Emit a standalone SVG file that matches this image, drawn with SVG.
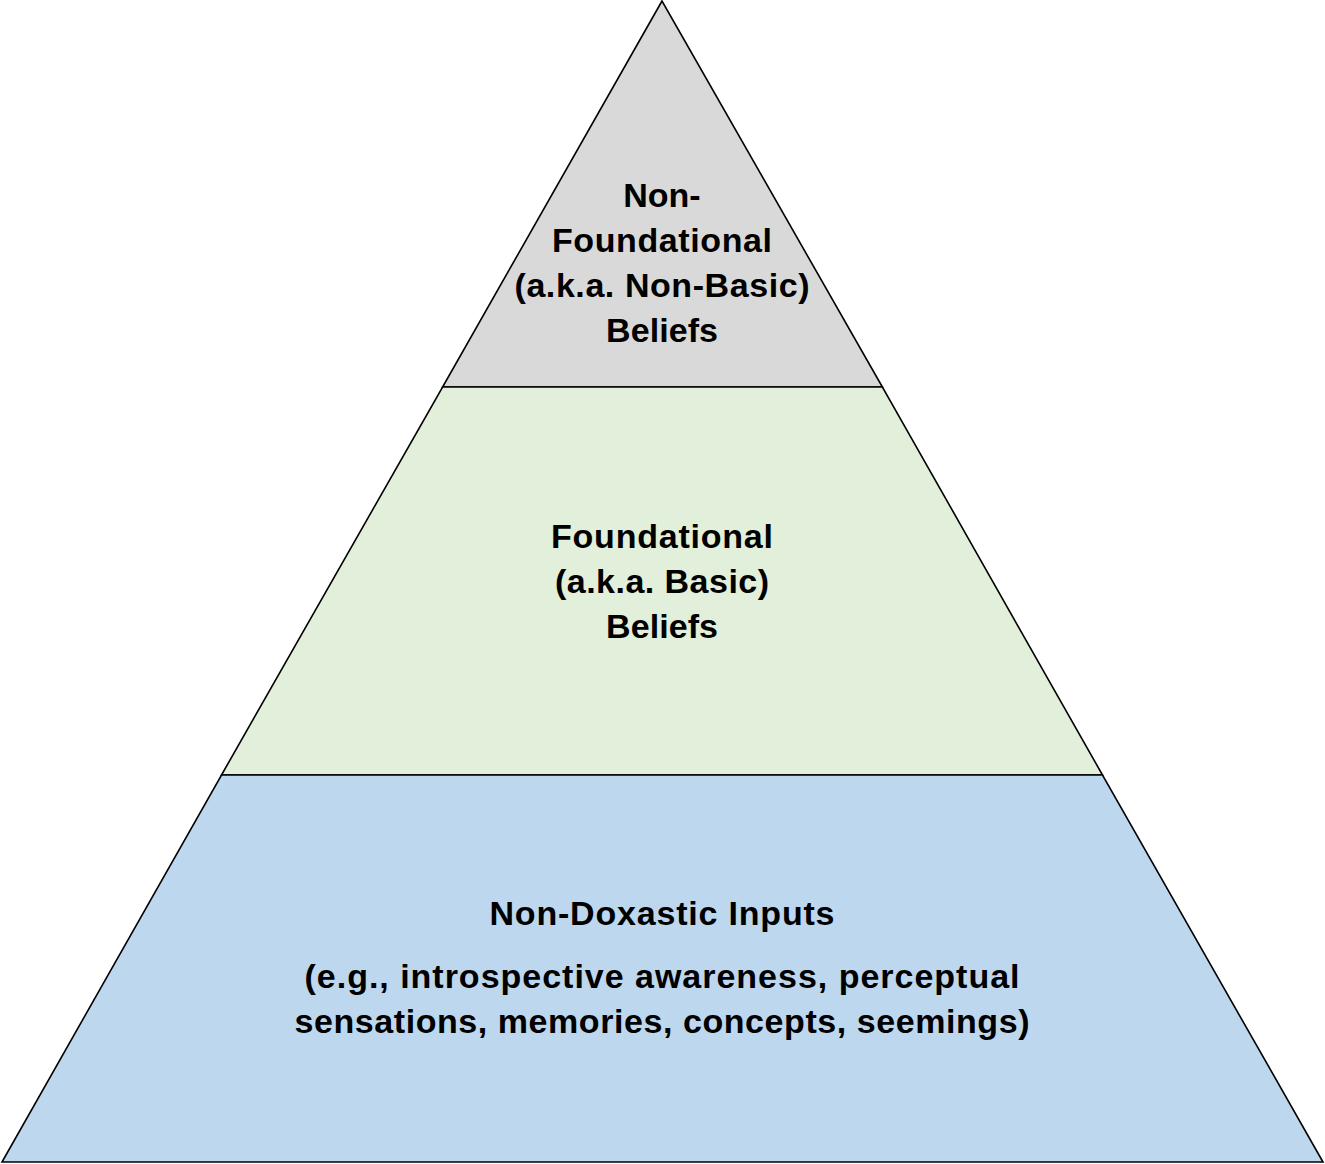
<svg xmlns="http://www.w3.org/2000/svg" width="1325" height="1164" viewBox="0 0 1325 1164">
<style>
.t{font-family:"Liberation Sans",Arial,sans-serif;font-weight:bold;font-size:34px;fill:#000;text-anchor:middle}
.s{stroke:#000;stroke-width:1.6;stroke-linejoin:miter}
</style>
<rect width="1325" height="1164" fill="#fff"/>
<g id="top">
<polygon class="s" points="662,1 442.6,387 882.4,387" fill="#D9D9D9"/>
<text class="t" x="662" y="207">Non-</text>
<text class="t" x="662" y="252" textLength="220">Foundational</text>
<text class="t" x="662" y="297" textLength="295">(a.k.a. Non-Basic)</text>
<text class="t" x="662" y="342" textLength="112">Beliefs</text>
</g>
<g id="middle">
<polygon class="s" points="442.6,387 882.4,387 1102.5,775 221.5,775" fill="#E2EFDA"/>
<text class="t" x="662" y="548" textLength="222">Foundational</text>
<text class="t" x="662" y="593" textLength="214">(a.k.a. Basic)</text>
<text class="t" x="662" y="638" textLength="112">Beliefs</text>
</g>
<g id="bottom">
<polygon class="s" points="221.5,775 1102.5,775 1323,1162 2,1162" fill="#BDD7EE"/>
<text class="t" x="662" y="925" textLength="345">Non-Doxastic Inputs</text>
<text class="t" x="662" y="988" textLength="715">(e.g., introspective awareness, perceptual</text>
<text class="t" x="662" y="1033" textLength="735">sensations, memories, concepts, seemings)</text>
</g>
<g id="connectors"></g>
</svg>
